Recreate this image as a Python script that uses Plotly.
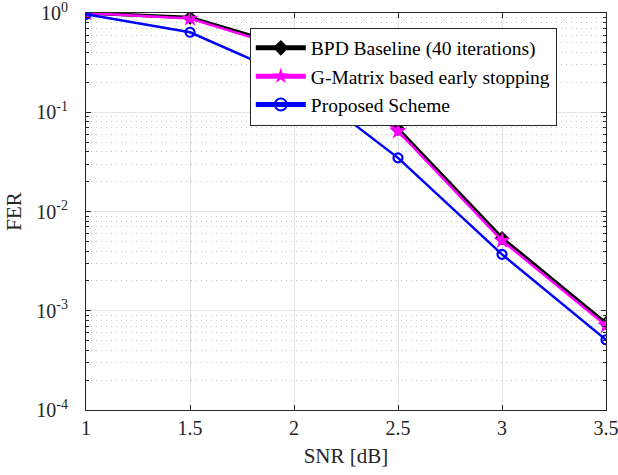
import plotly.graph_objects as go

snr = [1.0, 1.5, 2.0, 2.5, 3.0, 3.5]
fer_baseline = [1.0, 0.90, 0.44, 0.068, 0.0054, 0.00075]
fer_gmatrix = [1.0, 0.88, 0.42, 0.0645, 0.0051, 0.00071]
fer_proposed = [0.97, 0.64, 0.22, 0.0347, 0.0037, 0.00051]

names = ["BPD Baseline (40 iterations)", "G-Matrix based early stopping", "Proposed Scheme"]
ytick_vals = [1e-4, 1e-3, 1e-2, 1e-1, 1]
ytick_text = ["10<sup>-4</sup>", "10<sup>-3</sup>", "10<sup>-2</sup>", "10<sup>-1</sup>", "10<sup>0</sup>"]
ytick_minor = [m * d for d in [1e-4, 1e-3, 1e-2, 1e-1] for m in range(2, 10)]
xtick_vals = [1, 1.5, 2, 2.5, 3, 3.5]
xtick_text = ["1", "1.5", "2", "2.5", "3", "3.5"]

font = "Liberation Serif, Times New Roman, serif"
axcol = "#262626"

fig = go.Figure()
fig.add_trace(go.Scatter(x=snr, y=fer_baseline, name=names[0], mode="lines+markers",
                         line=dict(color="black", width=3.5),
                         marker=dict(symbol="diamond", size=11, color="black")))
fig.add_trace(go.Scatter(x=snr, y=fer_gmatrix, name=names[1], mode="lines+markers",
                         line=dict(color="#ff00ff", width=2.5),
                         marker=dict(symbol="star", size=13, color="#ff00ff")))
fig.add_trace(go.Scatter(x=snr, y=fer_proposed, name=names[2], mode="lines+markers",
                         line=dict(color="#0000ff", width=2.5),
                         marker=dict(symbol="circle-open", size=9, color="#0000ff",
                                     line=dict(width=2.2, color="#0000ff"))))

fig.update_layout(
    width=618, height=475,
    margin=dict(l=86, r=12, t=13, b=65, autoexpand=False),
    paper_bgcolor="white", plot_bgcolor="white",
    font=dict(family=font, size=20, color=axcol),
    showlegend=True,
    legend=dict(x=0.315, y=0.963, xanchor="left", yanchor="top",
                bgcolor="white", bordercolor=axcol, borderwidth=1,
                font=dict(family=font, size=19.5, color="black"),
                tracegroupgap=0, itemwidth=50, itemsizing="constant"),
)
fig.update_xaxes(
    range=[1, 3.5], tickvals=xtick_vals, ticktext=xtick_text,
    showgrid=True, gridcolor="#e3e3e3", gridwidth=1,
    showline=True, linecolor=axcol, linewidth=1, mirror="allticks",
    ticks="inside", ticklen=5, tickcolor=axcol,
    zeroline=False, ticklabeloverflow="allow", automargin=False,
    ticklabelstandoff=0,
    title=dict(text="SNR [dB]", font=dict(family=font, size=21, color=axcol), standoff=10),
    tickfont=dict(family=font, size=20, color=axcol),
)
fig.update_yaxes(
    type="log", range=[-4, 0], tickvals=ytick_vals, ticktext=ytick_text,
    showgrid=True, gridcolor="#e3e3e3", gridwidth=1,
    showline=True, linecolor=axcol, linewidth=1, mirror="allticks",
    ticks="inside", ticklen=5, tickcolor=axcol,
    zeroline=False, ticklabeloverflow="allow", automargin=False,
    ticklabelstandoff=13,
    minor=dict(tickvals=ytick_minor, ticks="inside", ticklen=3, tickcolor=axcol,
               showgrid=True, gridcolor="#c4c4c4", griddash="1px,4px", gridwidth=1),
    title=dict(text="FER", font=dict(family=font, size=21, color=axcol), standoff=8),
    tickfont=dict(family=font, size=20, color=axcol),
)

fig.write_html("out.html", config={"displayModeBar": False},
               post_script="document.body.style.margin='0';")
